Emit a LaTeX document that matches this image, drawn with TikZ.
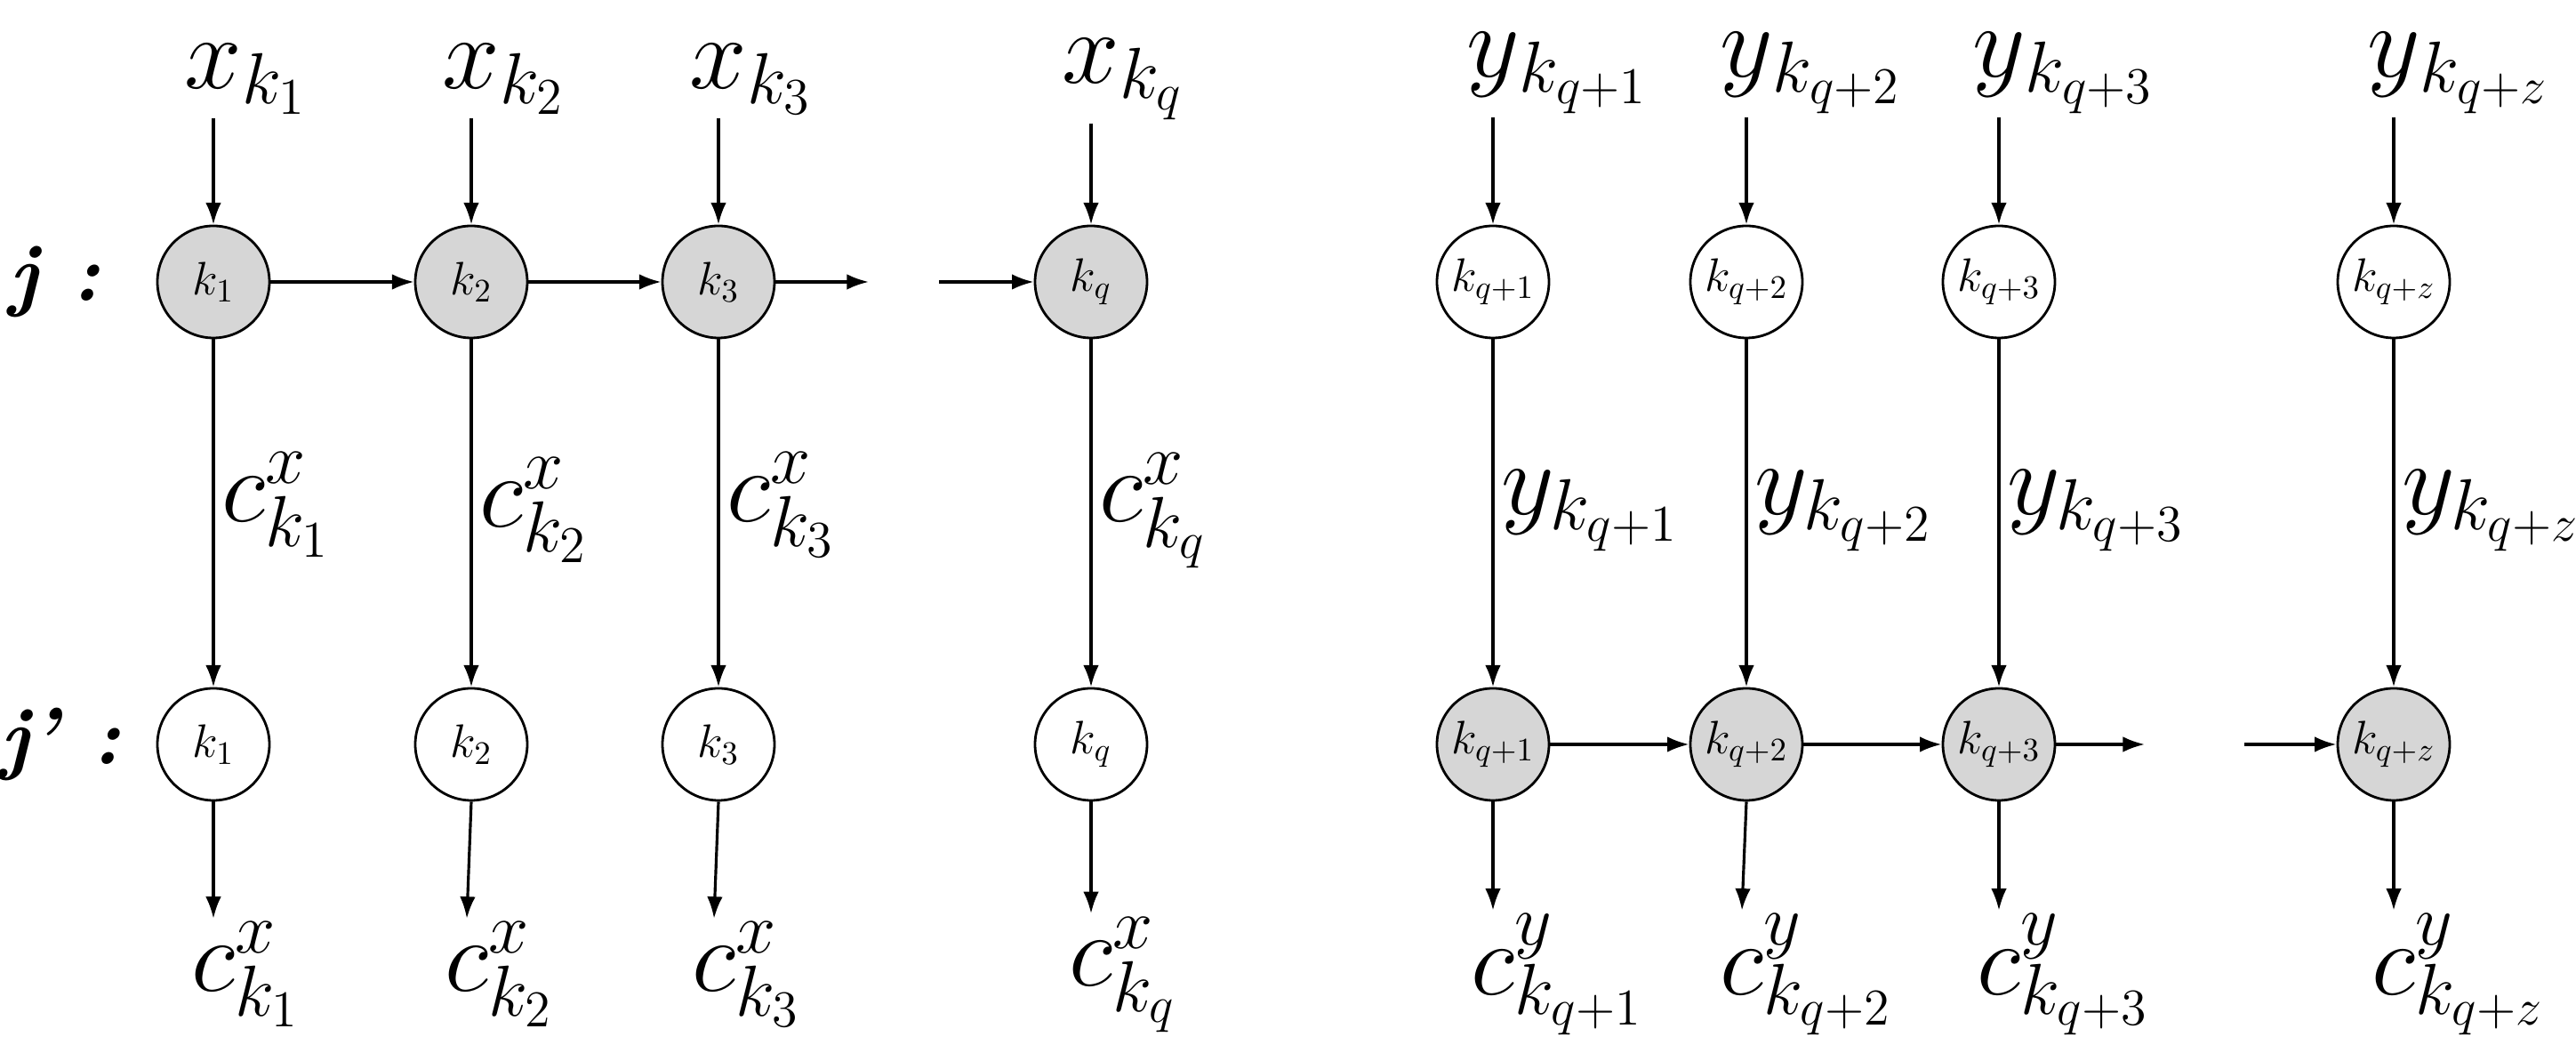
\RequirePackage{fix-cm}
\documentclass[tikz,border=0pt]{standalone}
\usetikzlibrary{positioning,arrows.meta}
\tikzset{arrowStyle/.style={
    -{Latex[length=7pt,width=5pt]},
    line width=0.9pt},
  grayNode/.style={circle,draw,line width=0.8pt,fill=black!16,minimum size=1.26cm,inner sep=0pt,
    font=\fontsize{15}{18}\selectfont},
  whiteNode/.style={grayNode,fill=white},
  bigLabel/.style={inner sep=1pt,font=\fontsize{33}{40}\selectfont},
  rowLabel/.style={font=\fontsize{26}{30}\selectfont\bfseries\itshape}
}

\begin{document}
\begin{tikzpicture}
      \useasboundingbox (0,0) rectangle (28.97,11.84);

      \node[rowLabel] (lj) at (0.62,8.67) {j :};
      \node[rowLabel] (ljp) at (0.68,3.47) {j' :};

      % left block
      \node[grayNode] (a1) at (2.40,8.67) {$k_1$};
      \node[grayNode] (a2) at (5.30,8.67) {$k_2$};
      \node[grayNode] (a3) at (8.08,8.67) {$k_3$};
      \node[grayNode] (aq) at (12.27,8.67) {$k_q$};
      \coordinate (aout) at (9.77,8.67);
      \coordinate (ain) at (10.56,8.67);

      \node[whiteNode] (b1) at (2.40,3.47) {$k_1$};
      \node[whiteNode] (b2) at (5.30,3.47) {$k_2$};
      \node[whiteNode] (b3) at (8.08,3.47) {$k_3$};
      \node[whiteNode] (bq) at (12.27,3.47) {$k_q$};

      \node[bigLabel] (xt1) at (2.40,10.95) {$x\rlap{$_{k_1}$}$};
      \node[bigLabel] (xt2) at (5.30,10.95) {$x\rlap{$_{k_2}$}$};
      \node[bigLabel] (xt3) at (8.08,10.95) {$x\rlap{$_{k_3}$}$};
      \node[bigLabel] (xtq) at (12.27,10.95) {$x\rlap{$_{k_q}$}$};

      \node[bigLabel,anchor=west] (cm1) at (2.45,6.16) {$c^x_{k_1}$};
      \node[bigLabel,anchor=west] (cm2) at (5.35,6.10) {$c^x_{k_2}$};
      \node[bigLabel,anchor=west] (cm3) at (8.13,6.16) {$c^x_{k_3}$};
      \node[bigLabel,anchor=west] (cmq) at (12.32,6.10) {$c^x_{k_q}$};

      \node[bigLabel] (cb1) at (2.40,0.88) {$c\rlap{$^x_{k_1}$}$};
      \node[bigLabel] (cb2) at (5.25,0.88) {$c\rlap{$^x_{k_2}$}$};
      \node[bigLabel] (cb3) at (8.03,0.88) {$c\rlap{$^x_{k_3}$}$};
      \node[bigLabel] (cbq) at (12.27,0.88) {$c\rlap{$^x_{k_q}$}$};

      \draw[arrowStyle] (xt1) -- (a1);
      \draw[arrowStyle] (xt2) -- (a2);
      \draw[arrowStyle] (xt3) -- (a3);
      \draw[arrowStyle] (xtq) -- (aq);
      \draw[arrowStyle] (a1) -- (a2);
      \draw[arrowStyle] (a2) -- (a3);
      \draw[arrowStyle] (a3) -- (aout);
      \draw[arrowStyle] (ain) -- (aq);
      \draw[arrowStyle] (a1) -- (b1);
      \draw[arrowStyle] (a2) -- (b2);
      \draw[arrowStyle] (a3) -- (b3);
      \draw[arrowStyle] (aq) -- (bq);
      \draw[arrowStyle] (b1) -- (cb1.north);
      \draw[arrowStyle] (b2.south) -- (cb2.north);
      \draw[arrowStyle] (b3.south) -- (cb3.north);
      \draw[arrowStyle] (bq) -- (cbq.north);

      % right block
      \node[whiteNode] (u1) at (16.79,8.67) {$k_{q+1}$};
      \node[whiteNode] (u2) at (19.64,8.67) {$k_{q+2}$};
      \node[whiteNode] (u3) at (22.48,8.67) {$k_{q+3}$};
      \node[whiteNode] (uz) at (26.92,8.67) {$k_{q+z}$};

      \node[grayNode] (v1) at (16.79,3.47) {$k_{q+1}$};
      \node[grayNode] (v2) at (19.64,3.47) {$k_{q+2}$};
      \node[grayNode] (v3) at (22.48,3.47) {$k_{q+3}$};
      \node[grayNode] (vz) at (26.92,3.47) {$k_{q+z}$};
      \coordinate (vout) at (24.12,3.47);
      \coordinate (vin) at (25.24,3.47);

      \node[bigLabel] (yt1) at (16.79,11.02) {$y\rlap{$_{k_{q+1}}$}$};
      \node[bigLabel] (yt2) at (19.64,11.02) {$y\rlap{$_{k_{q+2}}$}$};
      \node[bigLabel] (yt3) at (22.48,11.02) {$y\rlap{$_{k_{q+3}}$}$};
      \node[bigLabel] (ytz) at (26.92,11.02) {$y\rlap{$_{k_{q+z}}$}$};

      \node[bigLabel,anchor=west] (ym1) at (16.84,6.10) {$y_{k_{q+1}}$};
      \node[bigLabel,anchor=west] (ym2) at (19.69,6.10) {$y_{k_{q+2}}$};
      \node[bigLabel,anchor=west] (ym3) at (22.53,6.10) {$y_{k_{q+3}}$};
      \node[bigLabel,anchor=west] (ymz) at (26.97,6.10) {$y_{k_{q+z}}$};

      \node[bigLabel] (cy1) at (16.79,0.88) {$c\rlap{$^y_{k_{q+1}}$}$};
      \node[bigLabel] (cy2) at (19.59,0.88) {$c\rlap{$^y_{k_{q+2}}$}$};
      \node[bigLabel] (cy3) at (22.48,0.88) {$c\rlap{$^y_{k_{q+3}}$}$};
      \node[bigLabel] (cyz) at (26.92,0.88) {$c\rlap{$^y_{k_{q+z}}$}$};

      \draw[arrowStyle] (yt1) -- (u1);
      \draw[arrowStyle] (yt2) -- (u2);
      \draw[arrowStyle] (yt3) -- (u3);
      \draw[arrowStyle] (ytz) -- (uz);
      \draw[arrowStyle] (u1) -- (v1);
      \draw[arrowStyle] (u2) -- (v2);
      \draw[arrowStyle] (u3) -- (v3);
      \draw[arrowStyle] (uz) -- (vz);
      \draw[arrowStyle] (v1) -- (v2);
      \draw[arrowStyle] (v2) -- (v3);
      \draw[arrowStyle] (v3) -- (vout);
      \draw[arrowStyle] (vin) -- (vz);
      \draw[arrowStyle] (v1) -- (cy1.north);
      \draw[arrowStyle] (v2.south) -- (cy2.north);
      \draw[arrowStyle] (v3) -- (cy3.north);
      \draw[arrowStyle] (vz) -- (cyz.north);
\end{tikzpicture}
\end{document}
